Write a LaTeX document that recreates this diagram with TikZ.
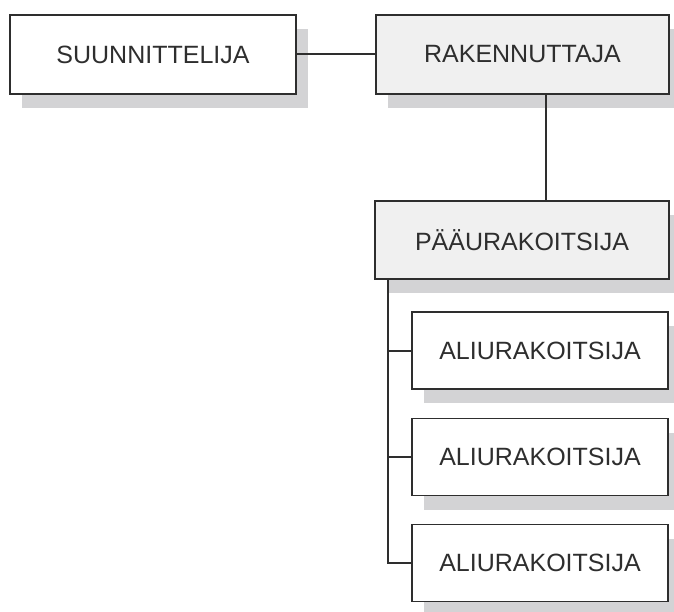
\documentclass[tikz,border=0pt]{standalone}
\usepackage{fontspec}
\setmainfont{Liberation Sans}
\usetikzlibrary{shadows}
\definecolor{shadowgray}{HTML}{D3D3D5}
\definecolor{boxgray}{HTML}{F0F0F0}
\definecolor{linegray}{HTML}{2E2E2E}
\tikzset{
  orgbox/.style={draw=linegray, line width=1.8pt, inner sep=0pt,
    text=linegray, font=\fontsize{25}{29}\selectfont,
    drop shadow={shadow xshift=12pt, shadow yshift=-14pt, fill=shadowgray, opacity=1}},
  conn/.style={draw=linegray, line width=2pt}
}
\begin{document}
\begin{tikzpicture}[x=1pt,y=-1pt]
\useasboundingbox (0,0) rectangle (674,612);
\node[orgbox, fill=white, minimum width=286pt, minimum height=79pt] (S) at (153,54.5) {SUUNNITTELIJA};
\node[orgbox, fill=boxgray, minimum width=293pt, minimum height=79pt] (R) at (522.5,54.5) {RAKENNUTTAJA};
\node[orgbox, fill=boxgray, minimum width=294pt, minimum height=78pt] (P) at (522,240) {PÄÄURAKOITSIJA};
\node[orgbox, fill=white, minimum width=256pt, minimum height=77pt] (A1) at (540,350.5) {ALIURAKOITSIJA};
\node[orgbox, fill=white, minimum width=256pt, minimum height=77pt] (A2) at (540,457) {ALIURAKOITSIJA};
\node[orgbox, fill=white, minimum width=256pt, minimum height=77pt] (A3) at (540,563) {ALIURAKOITSIJA};
\draw[conn] (S.east) -- (R.west);
\coordinate (rv) at ([xshift=171pt]R.south west);
\draw[conn] (rv) -- (rv |- P.north);
\coordinate (pv) at ([xshift=14pt]P.south west);
\draw[conn] (pv) |- (A3.west);
\draw[conn] (pv |- A1.west) -- (A1.west);
\draw[conn] (pv |- A2.west) -- (A2.west);
\end{tikzpicture}
\end{document}
